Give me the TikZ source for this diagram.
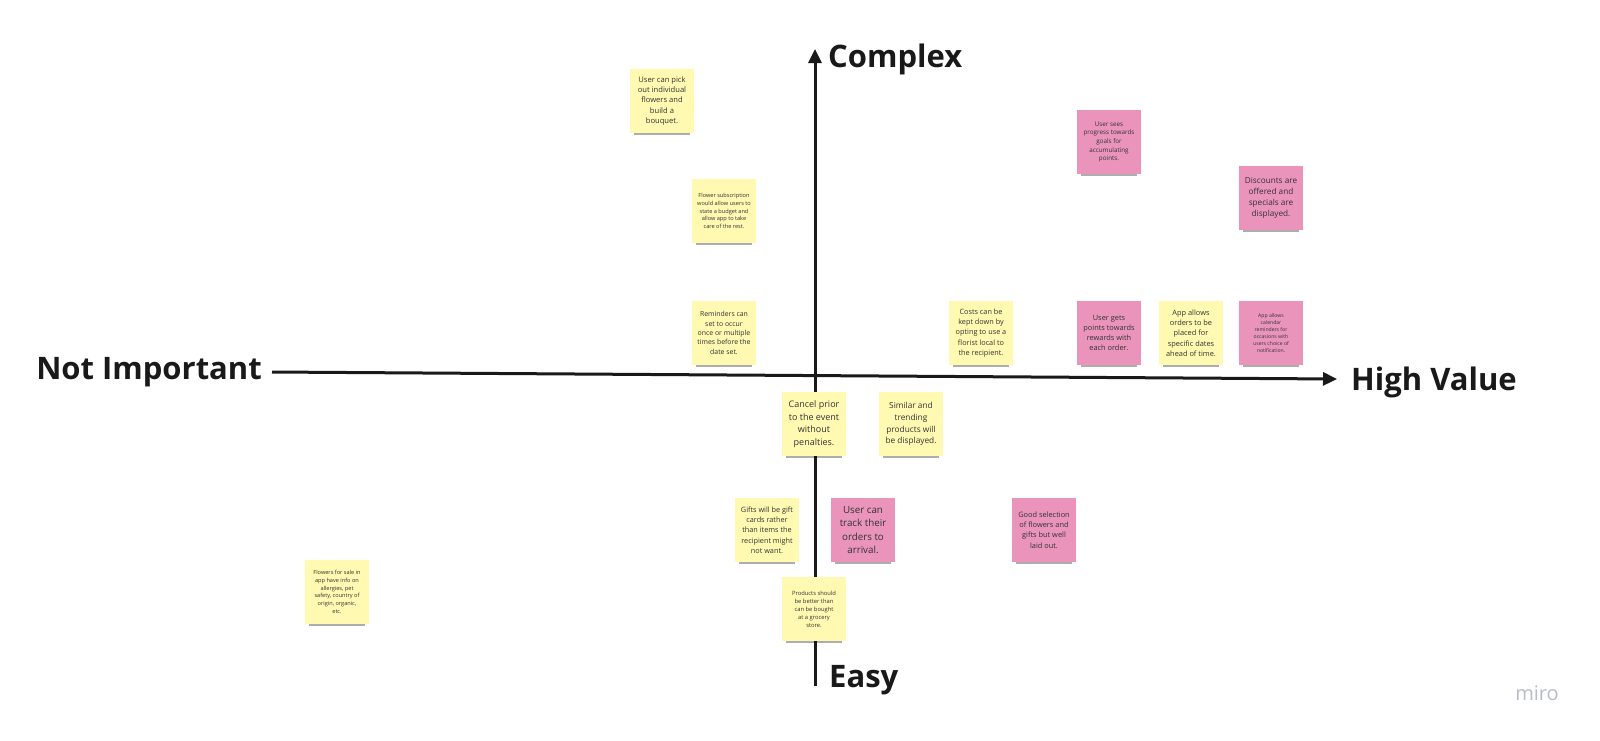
\documentclass[tikz,border=0pt]{standalone}
\usepackage{fontspec}
\setmainfont{Open Sans}
\usetikzlibrary{arrows.meta,shadows}

\definecolor{stickyyellow}{HTML}{FFF9B1}
\definecolor{stickypink}{HTML}{EA94BB}
\definecolor{notetext}{HTML}{333333}
\definecolor{mirogray}{HTML}{B8BCC8}

\tikzset{
  note/.style={minimum width=64, minimum height=64, inner sep=0pt, align=center,
    text=notetext, drop shadow={shadow xshift=0pt, shadow yshift=-8pt,
    shadow scale=0.86, opacity=0.32, fill=black, rounded corners=3pt}},
  yellownote/.style={note, fill=stickyyellow},
  pinknote/.style={note, fill=stickypink},
  axisline/.style={line width=3pt, black!90},
  axislabel/.style={anchor=west, inner sep=0pt, text=black!90,
    font=\fontsize{31}{36}\selectfont\bfseries},
}

\begin{document}
\begin{tikzpicture}[x=1pt,y=-1pt]
    \useasboundingbox[fill=white] (0,0) rectangle (1600,740);
    % axes
    \coordinate (west) at (272,372);
    \coordinate (east) at (1337,379);
    \coordinate (north) at (815,49);
    \coordinate (south) at (815,686);
    \draw[axisline,-{Triangle[length=14pt,width=13pt]}] (west) -- (east);
    \draw[axisline,-{Triangle[length=14pt,width=13pt]}] (south) -- (north);
    \node[axislabel] (complex) at (828,59) {Complex};
    \node[axislabel] (easy) at (829,680) {Easy};
    \node[axislabel,anchor=east] (notimportant) at (262,372) {Not Important};
    \node[axislabel] (highvalue) at (1351,382) {High Value};
    \node[text=mirogray, font=\fontsize{20}{24}\selectfont] (miro) at (1537,693) {miro};

    % upper left
    \node[yellownote, font=\fontsize{7.6}{10.4}\selectfont] (pick) at (662,101)
      {User can pick\\out individual\\flowers and\\build a\\bouquet.};
    \node[yellownote, font=\fontsize{5.6}{7.6}\selectfont] (subscription) at (724,211)
      {Flower subscription\\would allow users to\\state a budget and\\allow app to take\\care of the rest.};
    \node[yellownote, font=\fontsize{6.9}{9.4}\selectfont] (reminders) at (724,333)
      {Reminders can\\set to occur\\once or multiple\\times before the\\date set.};

    % upper right
    \node[yellownote, font=\fontsize{7.3}{10.2}\selectfont] (costs) at (981,333)
      {Costs can be\\kept down by\\opting to use a\\florist local to\\the recipient.};
    \node[pinknote, font=\fontsize{6.3}{8.7}\selectfont] (progress) at (1109,142)
      {User sees\\progress towards\\goals for\\accumulating\\points.};
    \node[pinknote, font=\fontsize{8.2}{11}\selectfont] (discounts) at (1271,198)
      {Discounts are\\offered and\\specials are\\displayed.};
    \node[pinknote, font=\fontsize{7.4}{10.2}\selectfont] (points) at (1109,333)
      {User gets\\points towards\\rewards with\\each order.};
    \node[yellownote, font=\fontsize{7.4}{10.3}\selectfont] (dates) at (1191,333)
      {App allows\\orders to be\\placed for\\specific dates\\ahead of time.};
    \node[pinknote, font=\fontsize{5.1}{7}\selectfont] (calendar) at (1271,333)
      {App allows\\calendar\\reminders for\\occasions with\\users choice of\\notification.};

    % lower half
    \node[yellownote, font=\fontsize{9}{12.5}\selectfont] (cancel) at (814,424)
      {Cancel prior\\to the event\\without\\penalties.};
    \node[yellownote, font=\fontsize{8.3}{11.8}\selectfont] (trending) at (911,424)
      {Similar and\\trending\\products will\\be displayed.};
    \node[yellownote, font=\fontsize{7.3}{10.3}\selectfont] (giftcards) at (767,530)
      {Gifts will be gift\\cards rather\\than items the\\recipient might\\not want.};
    \node[pinknote, font=\fontsize{9.8}{13.3}\selectfont] (track) at (863,530)
      {User can\\track their\\orders to\\arrival.};
    \node[pinknote, font=\fontsize{7.4}{10.2}\selectfont] (selection) at (1044,530)
      {Good selection\\of flowers and\\gifts but well\\laid out.};
    \node[yellownote, font=\fontsize{5.6}{7.7}\selectfont] (allergies) at (337,592)
      {Flowers for sale in\\app have info on\\allergies, pet\\safety, country of\\origin, organic,\\etc.};
    \node[yellownote, font=\fontsize{5.8}{8}\selectfont] (grocery) at (814,609)
      {Products should\\be better than\\can be bought\\at a grocery\\store.};
\end{tikzpicture}
\end{document}
